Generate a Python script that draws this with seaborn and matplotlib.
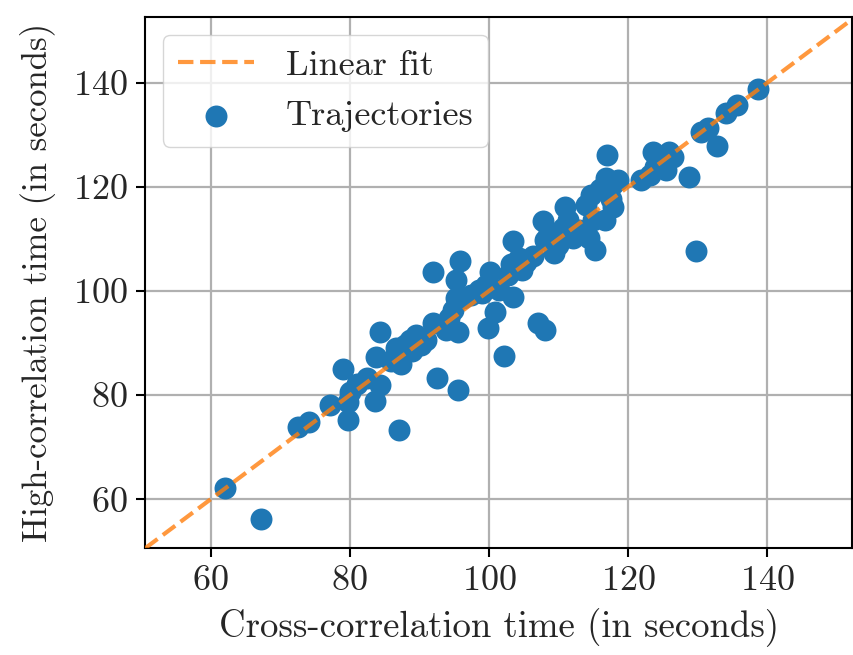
import numpy as np
import pandas as pd
import matplotlib
matplotlib.use("Agg")
import matplotlib.pyplot as plt
import seaborn as sns

# data
cross_corr_time = [
    62.0, 67.3, 72.6, 74.2, 77.2, 79.0, 79.7, 80.0, 79.8, 81.0,
    82.4, 83.6, 83.8, 84.3, 84.4, 87.0, 86.6, 87.3, 87.9, 88.7,
    89.5, 90.2, 90.9, 92.0, 92.0, 92.6, 93.8, 94.2, 94.8, 95.2,
    95.6, 95.3, 95.8, 95.5, 96.2, 97.4, 98.5, 99.5, 99.9, 100.2,
    100.8, 101.4, 102.1, 102.8, 103.1, 103.4, 103.5, 104.3, 105.3, 106.3,
    107.0, 107.7, 108.1, 108.1, 108.6, 109.3, 109.9, 110.6, 110.9, 111.4,
    112.0, 112.9, 113.9, 114.3, 114.6, 114.9, 115.3, 116.0, 116.6, 116.9,
    116.8, 117.5, 117.8, 118.5, 117.8, 121.8, 123.2, 123.6, 123.9, 124.7,
    125.4, 125.8, 126.4, 128.7, 129.7, 130.4, 131.5, 132.7, 134.1, 135.6,
    138.6, 104.8, 99.0, 89.0, 85.9,
]
high_corr_time = [
    62.1, 56.3, 73.8, 74.8, 78.1, 85.0, 78.7, 80.6, 75.2, 82.1,
    83.3, 78.8, 87.3, 81.9, 92.1, 73.3, 89.0, 86.0, 89.6, 90.6,
    91.5, 89.6, 90.6, 93.8, 103.7, 83.3, 92.5, 94.8, 96.3, 98.7,
    92.1, 102.1, 105.8, 81.0, 98.7, 99.2, 100.2, 101.2, 92.9, 103.7,
    96.0, 100.2, 87.5, 103.1, 105.2, 98.8, 109.6, 106.3, 105.6, 106.7,
    93.8, 113.5, 92.5, 109.8, 111.3, 107.3, 108.8, 112.1, 116.2, 113.7,
    110.2, 111.7, 116.5, 110.2, 118.5, 113.7, 107.9, 119.5, 113.7, 126.2,
    121.7, 117.7, 120.6, 121.3, 116.2, 121.3, 122.3, 126.7, 123.8, 125.2,
    123.3, 126.7, 125.7, 121.9, 107.7, 130.6, 131.3, 127.9, 134.2, 135.8,
    138.8, 104.0, 99.6, 88.4, 86.5,
]
fit_slope = 1.0
fit_intercept = 0.0

df = pd.DataFrame({"cross": cross_corr_time, "high": high_corr_time})

sns.set_style("whitegrid")
plt.rcParams["font.family"] = "serif"
plt.rcParams["font.serif"] = ["cmr10", "DejaVu Serif"]
plt.rcParams["mathtext.fontset"] = "cm"
plt.rcParams["axes.formatter.use_mathtext"] = True
plt.rcParams["axes.unicode_minus"] = False

fig = plt.figure(figsize=(8.54, 6.55), dpi=100)
ax = fig.add_axes([0.170, 0.163, 0.828, 0.811])

# fit line + scatter
ax.axline((0, fit_intercept), slope=fit_slope, color="#ff7f0e", alpha=0.8,
          linestyle="--", linewidth=3.0, label="Linear fit", zorder=3)
sns.scatterplot(data=df, x="cross", y="high", ax=ax, color="#1f77b4",
                s=250, linewidth=0, label="Trajectories", zorder=2)

ax.set_xlim(50.6, 152.2)
ax.set_ylim(50.6, 152.6)
ax.set_xticks([60, 80, 100, 120, 140])
ax.set_yticks([60, 80, 100, 120, 140])

ax.grid(True, color="#b0b0b0", linewidth=1.6)
for sp in ax.spines.values():
    sp.set_color("black")
    sp.set_linewidth(1.5)
ax.tick_params(axis="both", which="major", labelsize=26, length=6.5, width=1.5,
               color="black", direction="out", bottom=True, left=True, pad=6)

ax.set_xlabel("Cross-correlation time (in seconds)", fontsize=26.5, labelpad=8)
ax.set_ylabel("High-correlation time (in seconds)", fontsize=25, labelpad=12)

ax.legend(loc="upper left", fontsize=26, framealpha=0.8, edgecolor="#cccccc",
          handlelength=2.1, handletextpad=0.9)

fig.savefig("out.png", dpi=100)
